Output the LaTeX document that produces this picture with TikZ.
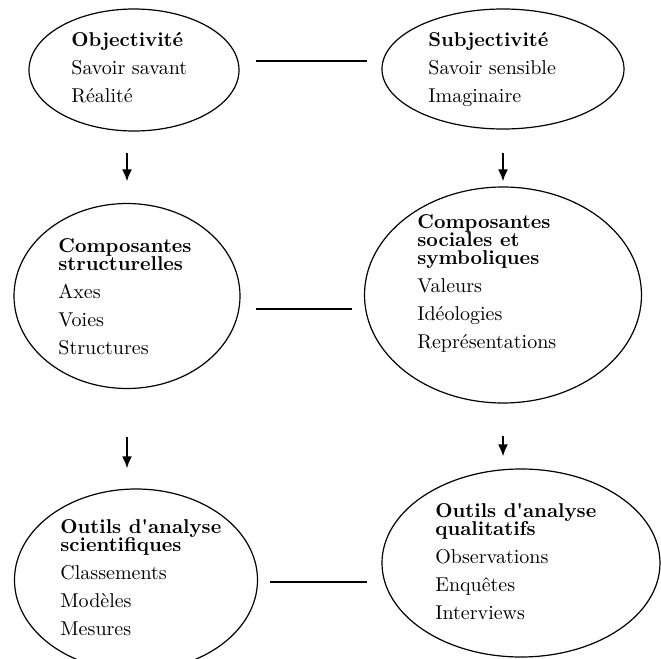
\documentclass[tikz,border=0pt]{standalone}
\usetikzlibrary{shapes.geometric,arrows.meta}

\begin{document}
\begin{tikzpicture}[x=0.5pt,y=-0.5pt]
    \tikzset{%
      bulle/.style={ellipse, draw, line width=0.6pt, inner sep=0pt},
      txt/.style={anchor=north west, align=left, inner sep=0pt},
      link/.style={line width=0.9pt},
      fleche/.style={line width=0.9pt, -{Latex[length=6pt,width=5pt]}},
    }
    \clip (0,0) rectangle (661,659);
    % ellipses
    \node[bulle, minimum width=105pt, minimum height=61pt] (A) at (134,70) {};
    \node[bulle, minimum width=121pt, minimum height=60pt] (B) at (503,69) {};
    \node[bulle, minimum width=113pt, minimum height=92.5pt] (C) at (127,296) {};
    \node[bulle, minimum width=138.5pt, minimum height=108pt] (D) at (503,295) {};
    \node[bulle, minimum width=121.5pt, minimum height=91pt] (E) at (136,580) {};
    \node[bulle, minimum width=139pt, minimum height=94pt] (F) at (521,563) {};
    % texts
    \node[txt] (A1) at (71,32) {\textbf{Objectivit\'e}\\[2pt]Savoir savant\\[2pt]R\'ealit\'e};
    \node[txt] (B1) at (428,32) {\textbf{Subjectivit\'e}\\[2pt]Savoir sensible\\[2pt]Imaginaire};
    \node[txt] (C1) at (58,238) {\textbf{Composantes}\\[-3pt]\textbf{structurelles}\\[2pt]Axes\\[2pt]Voies\\[2pt]Structures};
    \node[txt] (D1) at (417,214) {\textbf{Composantes}\\[-3pt]\textbf{sociales et}\\[-3pt]\textbf{symboliques}\\[2pt]Valeurs\\[2pt]Id\'eologies\\[2pt]Repr\'esentations};
    \node[txt] (E1) at (60,519) {\textbf{Outils d\textquotesingle analyse}\\[-3pt]\textbf{scientifiques}\\[2pt]Classements\\[2pt]Mod\`eles\\[2pt]Mesures};
    \node[txt] (F1) at (435,503) {\textbf{Outils d\textquotesingle analyse}\\[-3pt]\textbf{qualitatifs}\\[2pt]Observations\\[2pt]Enqu\^etes\\[2pt]Interviews};
    % horizontal links
    \draw[link, shorten <=8pt, shorten >=7pt] ([yshift=4.5pt]A.east) -- ([yshift=4.5pt]A.east -| B.west);
    \draw[link, shorten <=7.5pt, shorten >=6pt] ([yshift=-6.5pt]C.east) -- ([yshift=-6.5pt]C.east -| D.west);
    \draw[link, shorten <=6pt, shorten >=7pt] ([yshift=-1pt]E.east) -- ([yshift=-1pt]E.east -| F.west);
    % arrows
    \draw[fleche, shorten <=10.5pt, shorten >=10.75pt] (C.north |- A.south) -- (C.north);
    \draw[fleche, shorten <=11.5pt, shorten >=2.5pt] (D.north |- B.south) -- (D.north);
    \draw[fleche, shorten <=24pt, shorten >=10pt] (C.south) -- (C.south |- E.north);
    \draw[fleche, shorten <=16pt, shorten >=6pt] (D.south) -- (D.south |- F.north);
\end{tikzpicture}
\end{document}
